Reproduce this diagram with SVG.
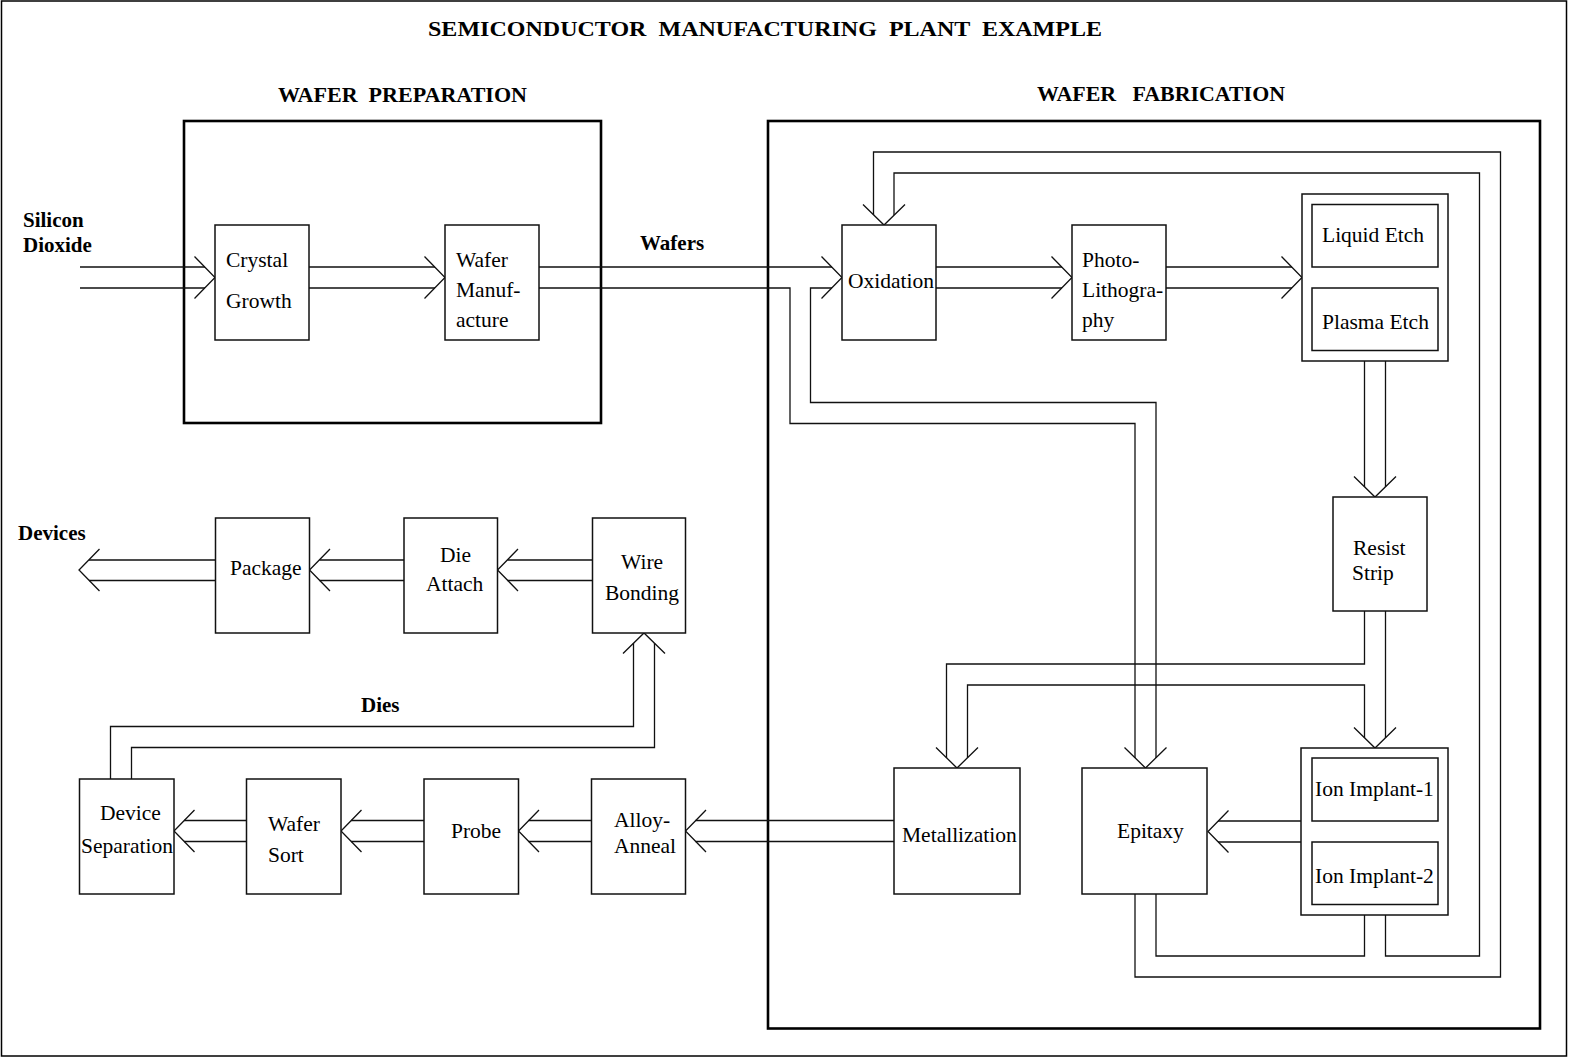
<svg xmlns="http://www.w3.org/2000/svg" xmlns:xlink="http://www.w3.org/1999/xlink" width="1570" height="1058" viewBox="0 0 1570 1058">
<style>
.frame{fill:none;stroke:#000;stroke-width:1.5}
.sect{fill:none;stroke:#000;stroke-width:2.6}
.node rect{fill:#fff;stroke:#111;stroke-width:1.5}
.conn path,.conn use{fill:none;stroke:#111;stroke-width:1.3}
.t{font-family:"Liberation Serif","Times New Roman",serif;font-size:21.5px;fill:#000}
.b{font-family:"Liberation Serif","Times New Roman",serif;font-size:21px;font-weight:bold;fill:#000}
.h{font-family:"Liberation Serif","Times New Roman",serif;font-size:22px;font-weight:bold;fill:#000}
</style>
<defs>
<path id="ah" d="M-20.5,-21 L0,0 L-20.5,21" fill="none" stroke="#111" stroke-width="1.3"/>
</defs>
<rect width="1570" height="1058" fill="#fff"/>
<rect class="frame" x="1.5" y="1" width="1565" height="1055"/>
<text class="h" x="765" y="36" text-anchor="middle" font-size="27" textLength="674" lengthAdjust="spacingAndGlyphs" xml:space="preserve">SEMICONDUCTOR  MANUFACTURING  PLANT  EXAMPLE</text>
<g id="wafer-preparation">
<rect class="sect" x="184" y="121" width="417" height="302"/>
<text class="h" x="278" y="102" textLength="249" lengthAdjust="spacingAndGlyphs" xml:space="preserve">WAFER  PREPARATION</text>
</g>
<g id="wafer-fabrication">
<rect class="sect" x="768" y="121" width="772" height="907.5"/>
<text class="h" x="1037" y="101" textLength="248" lengthAdjust="spacingAndGlyphs" xml:space="preserve">WAFER   FABRICATION</text>
</g>
<text class="b" x="23" y="227">Silicon</text>
<text class="b" x="23" y="252">Dioxide</text>
<text class="b" x="640" y="250">Wafers</text>
<text class="b" x="18" y="540">Devices</text>
<text class="b" x="361" y="712">Dies</text>

<g class="conn" id="connectors">
<path d="M80,267H205M80,288H205"/>
<use xlink:href="#ah" transform="translate(215,277.5)"/>
<path d="M309,267H435M309,288H435"/>
<use xlink:href="#ah" transform="translate(445,277.5)"/>
<path d="M539,267H832M539,288H790V423.5H1135V758"/>
<path d="M832,288H810.5V402.5H1156V758"/>
<use xlink:href="#ah" transform="translate(842,277.5)"/>
<use xlink:href="#ah" transform="translate(1145.5,768) rotate(90)"/>
<path d="M936,267H1062M936,288H1062"/>
<use xlink:href="#ah" transform="translate(1072,277.5)"/>
<path d="M1166,267H1292M1166,288H1292"/>
<use xlink:href="#ah" transform="translate(1302,277.5)"/>
<path d="M1364.5,361V487M1385.5,361V487"/>
<use xlink:href="#ah" transform="translate(1375,497) rotate(90)"/>
<path d="M1364.5,611V664H946.5V758"/>
<path d="M967.5,758V685H1364.5V738"/>
<path d="M1385.5,611V738"/>
<use xlink:href="#ah" transform="translate(957,768) rotate(90)"/>
<use xlink:href="#ah" transform="translate(1375,748) rotate(90)"/>
<path d="M1301,821H1218M1301,842H1218"/>
<use xlink:href="#ah" transform="translate(1208,831.5) rotate(180)"/>
<path d="M1135,894V977H1500.5V152H873.5V215"/>
<path d="M1156,894V956H1364.5V915"/>
<path d="M1385.5,915V956H1479.5V173H894V215"/>
<use xlink:href="#ah" transform="translate(884,225) rotate(90)"/>
<path d="M894,820.5H695.5M894,841.5H695.5"/>
<use xlink:href="#ah" transform="translate(685.5,831) rotate(180)"/>
<path d="M591.5,820.5H528.5M591.5,841.5H528.5"/>
<use xlink:href="#ah" transform="translate(518.5,831) rotate(180)"/>
<path d="M424,820.5H351M424,841.5H351"/>
<use xlink:href="#ah" transform="translate(341,831) rotate(180)"/>
<path d="M246.5,820.5H184M246.5,841.5H184"/>
<use xlink:href="#ah" transform="translate(174,831) rotate(180)"/>
<path d="M110.5,779V726.5H633.5V643M131.5,779V747.5H654.5V643"/>
<use xlink:href="#ah" transform="translate(644,633) rotate(-90)"/>
<path d="M592.5,560H507.5M592.5,580.5H507.5"/>
<use xlink:href="#ah" transform="translate(497.5,570) rotate(180)"/>
<path d="M404,560H319.5M404,580.5H319.5"/>
<use xlink:href="#ah" transform="translate(309.5,570) rotate(180)"/>
<path d="M215.5,560H89M215.5,580.5H89"/>
<use xlink:href="#ah" transform="translate(79,570) rotate(180)"/>
</g>

<g class="node" id="crystal-growth">
<rect x="215" y="225" width="94" height="115"/>
<text class="t" x="226" y="267">Crystal</text>
<text class="t" x="226" y="308">Growth</text>
</g>
<g class="node" id="wafer-manufacture">
<rect x="445" y="225" width="94" height="115"/>
<text class="t" x="456" y="267">Wafer</text>
<text class="t" x="456" y="297">Manuf-</text>
<text class="t" x="456" y="327">acture</text>
</g>
<g class="node" id="oxidation">
<rect x="842" y="225" width="94" height="115"/>
<text class="t" x="848" y="288">Oxidation</text>
</g>
<g class="node" id="photolithography">
<rect x="1072" y="225" width="94" height="115"/>
<text class="t" x="1082" y="267">Photo-</text>
<text class="t" x="1082" y="297">Lithogra-</text>
<text class="t" x="1082" y="327">phy</text>
</g>
<g class="node" id="etch">
<rect x="1302" y="194" width="146" height="167"/>
<rect x="1312" y="204.5" width="126" height="62.5"/>
<rect x="1312" y="288" width="126" height="62.5"/>
<text class="t" x="1322" y="242">Liquid Etch</text>
<text class="t" x="1322" y="329">Plasma Etch</text>
</g>
<g class="node" id="resist-strip">
<rect x="1333" y="497" width="94" height="114"/>
<text class="t" x="1353" y="555">Resist</text>
<text class="t" x="1352" y="580">Strip</text>
</g>
<g class="node" id="metallization">
<rect x="894" y="768" width="126" height="126"/>
<text class="t" x="902" y="842">Metallization</text>
</g>
<g class="node" id="epitaxy">
<rect x="1082" y="768" width="125" height="126"/>
<text class="t" x="1117" y="838">Epitaxy</text>
</g>
<g class="node" id="ion-implant">
<rect x="1301" y="748" width="147" height="167"/>
<rect x="1312" y="758" width="126" height="63"/>
<rect x="1312" y="842" width="126" height="62.5"/>
<text class="t" x="1315" y="796">Ion Implant-1</text>
<text class="t" x="1315" y="883">Ion Implant-2</text>
</g>
<g class="node" id="alloy-anneal">
<rect x="591.5" y="779" width="94" height="115"/>
<text class="t" x="614" y="827">Alloy-</text>
<text class="t" x="614" y="853">Anneal</text>
</g>
<g class="node" id="probe">
<rect x="424" y="779" width="94.5" height="115"/>
<text class="t" x="451" y="838">Probe</text>
</g>
<g class="node" id="wafer-sort">
<rect x="246.5" y="779" width="94.5" height="115"/>
<text class="t" x="268" y="831">Wafer</text>
<text class="t" x="268" y="862">Sort</text>
</g>
<g class="node" id="device-separation">
<rect x="79.5" y="779" width="94.5" height="115"/>
<text class="t" x="100" y="820">Device</text>
<text class="t" x="81" y="853">Separation</text>
</g>
<g class="node" id="package">
<rect x="215.5" y="518" width="94" height="115"/>
<text class="t" x="230" y="575">Package</text>
</g>
<g class="node" id="die-attach">
<rect x="404" y="518" width="93.5" height="115"/>
<text class="t" x="440" y="562">Die</text>
<text class="t" x="426" y="591">Attach</text>
</g>
<g class="node" id="wire-bonding">
<rect x="592.5" y="518" width="93" height="115"/>
<text class="t" x="621" y="569">Wire</text>
<text class="t" x="605" y="600">Bonding</text>
</g>
</svg>
